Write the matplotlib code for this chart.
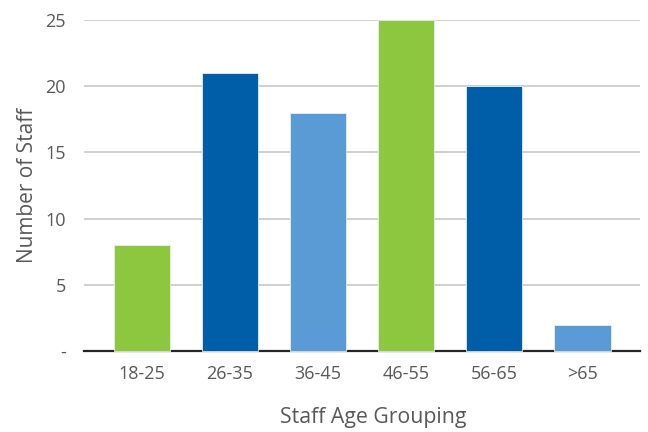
import matplotlib
matplotlib.use("Agg")
import matplotlib.pyplot as plt

# Staff counts by age band
age_groups = ["18-25", "26-35", "36-45", "46-55", "56-65", ">65"]
staff_counts = [8, 21, 18, 25, 20, 2]
bar_colors = ["#8DC63F", "#005DA8", "#5B9BD5", "#8DC63F", "#005DA8", "#5B9BD5"]
y_ticks = [0, 5, 10, 15, 20, 25]
y_tick_labels = ["-", "5", "10", "15", "20", "25"]

plt.rcParams["font.family"] = ["Open Sans", "DejaVu Sans"]
text_color = "#595959"

fig = plt.figure(figsize=(6.48, 4.32), dpi=100)
ax = fig.add_axes([0.1296, 0.1875, 0.8581, 0.7662])

x = range(len(age_groups))
ax.bar(x, staff_counts, width=0.64, color=bar_colors, edgecolor="#e8eef0",
       linewidth=0.6, zorder=3, clip_on=False)

ax.set_xlim(-0.655, 5.655)
ax.set_ylim(0, 25)
ax.set_yticks(y_ticks)
ax.set_yticklabels(y_tick_labels)
ax.set_xticks(list(x))
ax.set_xticklabels(age_groups)

ax.grid(axis="y", color="#c8c8c8", linewidth=1.2, zorder=0)
ax.set_axisbelow(True)
for side in ["top", "right", "left"]:
    ax.spines[side].set_visible(False)
ax.spines["bottom"].set_color("#262626")
ax.spines["bottom"].set_linewidth(1.6)
ax.spines["bottom"].set_zorder(2)

ax.tick_params(axis="both", length=0, labelsize=13, labelcolor=text_color)
ax.tick_params(axis="y", pad=13)
ax.tick_params(axis="x", pad=10)

ax.set_xlabel("Staff Age Grouping", fontsize=15.3, color=text_color, labelpad=17)
ax.xaxis.label.set_x(0.52)
ax.set_ylabel("Number of Staff", fontsize=15, color=text_color, labelpad=5)

fig.savefig("out.png", dpi=100)
